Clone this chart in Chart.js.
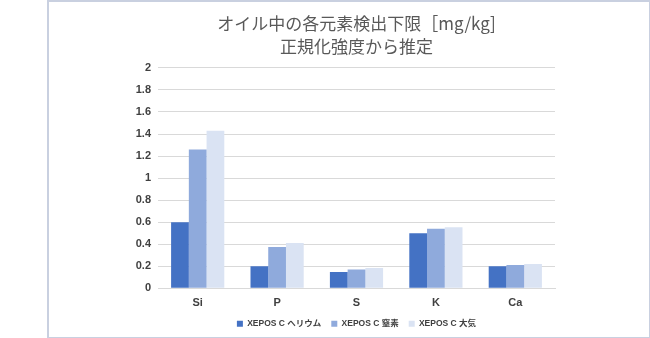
<!DOCTYPE html>
<html>
<head>
<meta charset="utf-8">
<script src="https://cdn.jsdelivr.net/npm/chart.js@4.4.1/dist/chart.umd.min.js"></script>
<style>
  html, body { margin: 0; padding: 0; background: #fff; }
  #frame {
    position: absolute; left: 47px; top: 0; width: 600px; height: 335px;
    border: 2px solid #c9d0e0; box-sizing: content-box;
  }
  #wrap { position: absolute; left: 0; top: 0; width: 650px; height: 338px; }
</style>
</head>
<body>
<div id="frame"></div>
<div id="wrap"><canvas id="myChart"></canvas></div>
<script>
// detection limits per element, mg/kg
var elements = ["Si", "P", "S", "K", "Ca"];
var seriesNames = ["XEPOS C ヘリウム", "XEPOS C 窒素", "XEPOS C 大気"];
var helium = [0.6, 0.2, 0.148, 0.5, 0.2];
var nitrogen = [1.26, 0.375, 0.17, 0.54, 0.212];
var air = [1.43, 0.41, 0.185, 0.555, 0.22];
var yTicks = [0, 0.2, 0.4, 0.6, 0.8, 1, 1.2, 1.4, 1.6, 1.8, 2];

var colors = ["#4472c4", "#8faadc", "#dae3f3"];
var tickFont = { family: "'Liberation Sans', 'Noto Sans CJK JP', sans-serif", size: 11, weight: "bold" };

// center title and legend over the plot area instead of the whole canvas
var centerOnPlot = {
  id: "centerOnPlot",
  afterLayout: function (chart) {
    var a = chart.chartArea;
    [chart.titleBlock, chart.legend].forEach(function (b) {
      if (!b) return;
      b.left = a.left;
      b.right = a.right;
      b.width = a.right - a.left;
    });
  }
};

var ctx = document.getElementById("myChart").getContext("2d");
var myChart = new Chart(ctx, {
  type: "bar",
  data: {
    labels: elements,
    datasets: [helium, nitrogen, air].map(function (vals, i) {
      return {
        label: seriesNames[i],
        data: vals,
        backgroundColor: colors[i],
        borderWidth: 0,
        categoryPercentage: 0.67,
        barPercentage: 1.0
      };
    })
  },
  plugins: [centerOnPlot],
  options: {
    responsive: true,
    maintainAspectRatio: false,
    animation: false,
    layout: { padding: { left: 100, right: 95, top: 0, bottom: 0 } },
    plugins: {
      title: {
        display: true,
        text: ["オイル中の各元素検出下限［mg/kg]", "正規化強度から推定"],
        color: "#595959",
        font: { family: "'Noto Sans CJK JP', sans-serif", size: 17, weight: "normal", lineHeight: 1.35 },
        padding: { top: 12, bottom: 10 }
      },
      legend: {
        position: "bottom",
        labels: {
          boxWidth: 6,
          boxHeight: 6,
          color: "#404040",
          padding: 10,
          font: { family: "'Liberation Sans', 'Noto Sans CJK JP', sans-serif", size: 8.5, weight: "bold" }
        }
      },
      tooltip: { enabled: false }
    },
    scales: {
      x: {
        grid: { display: false },
        border: { color: "#d9d9d9" },
        ticks: { color: "#404040", font: tickFont, padding: 0 }
      },
      y: {
        min: 0,
        max: 2,
        afterFit: function (s) { s.width = 58; },
        afterBuildTicks: function (s) { s.ticks = yTicks.map(function (v) { return { value: v }; }); },
        grid: { color: "#d9d9d9", drawTicks: false },
        border: { display: false },
        ticks: {
          color: "#404040", font: tickFont, padding: 7,
          callback: function (v) { return String(Math.round(v * 10) / 10); }
        }
      }
    }
  }
});
</script>
</body>
</html>
